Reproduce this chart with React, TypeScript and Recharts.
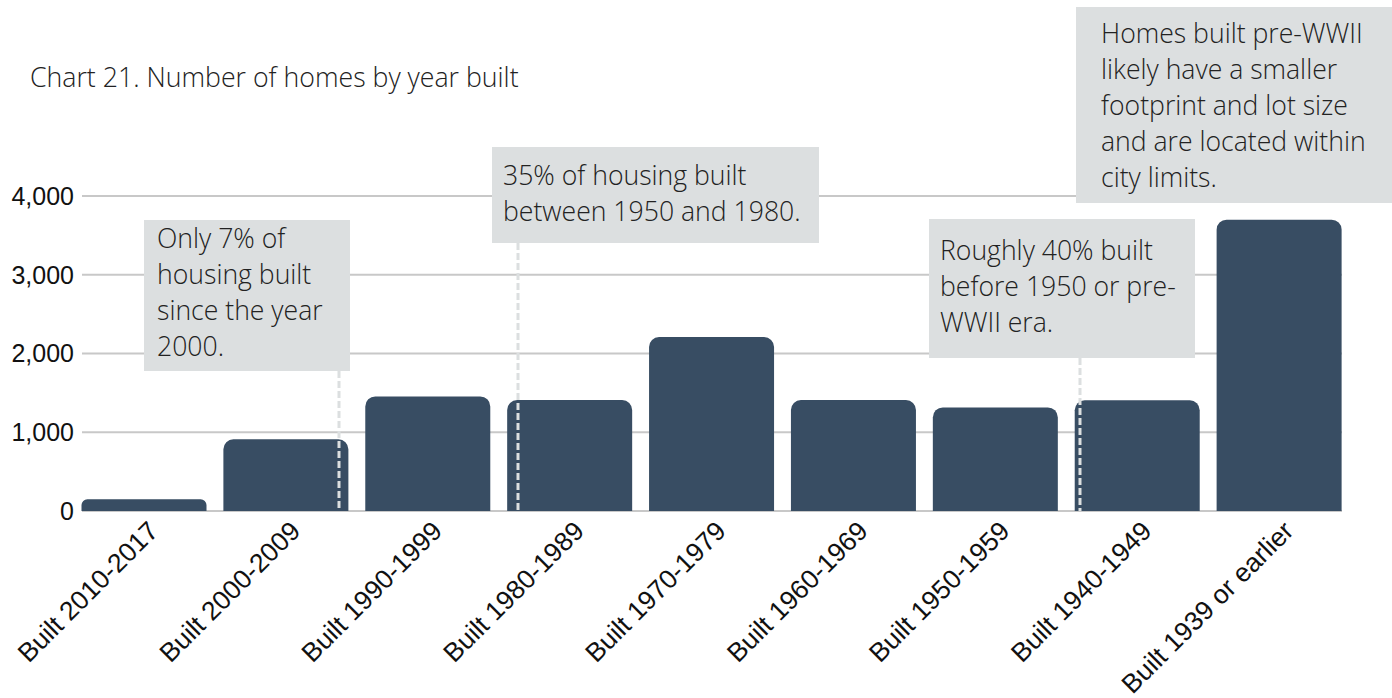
import { BarChart, Bar, XAxis, YAxis, CartesianGrid } from 'recharts';

const CATEGORIES = [
  'Built 2010-2017',
  'Built 2000-2009',
  'Built 1990-1999',
  'Built 1980-1989',
  'Built 1970-1979',
  'Built 1960-1969',
  'Built 1950-1959',
  'Built 1940-1949',
  'Built 1939 or earlier',
];

const HOMES = [150, 910, 1455, 1410, 2210, 1410, 1315, 1405, 3700];

const Y_TICKS = [0, 1000, 2000, 3000, 4000];

const TITLE = 'Chart 21. Number of homes by year built';

const NOTES = [
  {
    lines: ['Only 7% of', 'housing built', 'since the year', '2000.'],
    box: { left: 144, top: 220, width: 206, height: 151, padL: 13, padT: 0 },
    leader: { x: 339, y1: 371, y2: 511 },
  },
  {
    lines: ['35% of housing built', 'between 1950 and 1980.'],
    box: { left: 492, top: 147, width: 327, height: 96, padL: 11, padT: 10 },
    leader: { x: 518, y1: 243, y2: 511 },
  },
  {
    lines: ['Roughly 40% built', 'before 1950 or pre-', 'WWII era.'],
    box: { left: 929, top: 219, width: 266, height: 139, padL: 11, padT: 13 },
    leader: { x: 1080, y1: 358, y2: 511 },
  },
  {
    lines: [
      'Homes built pre-WWII',
      'likely have a smaller',
      'footprint and lot size',
      'and are located within',
      'city limits.',
    ],
    box: { left: 1076, top: 7, width: 316, height: 196, padL: 25, padT: 8 },
    leader: null,
  },
];

const data = CATEGORIES.map((name, i) => ({ name, homes: HOMES[i] }));

const BAR = '#384d63';
const NOTE_BG = '#dcdfe0';
const TICK_FONT = '"Liberation Sans", Arial, sans-serif';
const TEXT_FONT = '"Open Sans", sans-serif';

function XTick({ x, y, payload }: any) {
  return (
    <g transform={`translate(${x + 2},${y})`}>
      <text
        transform="rotate(-45)"
        textAnchor="end"
        dy="0.72em"
        fontSize={26.5}
        fontFamily={TICK_FONT}
        fill="#111"
      >
        {payload.value}
      </text>
    </g>
  );
}

export default function App() {
  return (
    <div style={{ position: 'relative', width: 1392, height: 698, overflow: 'hidden' }}>
      <style>{'body{margin:0}'}</style>
      <div
        style={{
          position: 'absolute',
          left: 30,
          top: 61.5,
          fontFamily: TEXT_FONT,
          fontSize: 26.7,
          fontWeight: 300,
          lineHeight: '30px',
          color: '#222',
          whiteSpace: 'nowrap',
        }}
      >
        {TITLE}
      </div>

      <BarChart
        width={1392}
        height={698}
        data={data}
        margin={{ top: 196, right: 50, bottom: 37, left: 0 }}
      >
        <CartesianGrid vertical={false} stroke="#c8c8c8" strokeWidth={2} />
        <XAxis
          dataKey="name"
          interval={0}
          height={150}
          axisLine={false}
          tickLine={false}
          padding={{ left: -8.5, right: -8.5 }}
          tick={<XTick />}
        />
        <YAxis
          width={82}
          domain={[0, 4000]}
          ticks={Y_TICKS}
          axisLine={false}
          tickLine={false}
          tickFormatter={(v: number) => v.toLocaleString('en-US')}
          tick={{ fontSize: 25, fontFamily: TICK_FONT, fill: '#111' }}
        />
        <Bar
          dataKey="homes"
          fill={BAR}
          barSize={125}
          radius={[10, 10, 0, 0]}
          isAnimationActive={false}
        />
      </BarChart>

      {NOTES.map((n, i) => (
        <div
          key={i}
          style={{
            position: 'absolute',
            left: n.box.left,
            top: n.box.top,
            width: n.box.width,
            height: n.box.height,
            background: NOTE_BG,
            boxSizing: 'border-box',
            paddingLeft: n.box.padL,
            paddingTop: n.box.padT,
            fontFamily: TEXT_FONT,
            fontSize: 26.6,
            fontWeight: 300,
            lineHeight: '36px',
            color: '#222',
            whiteSpace: 'nowrap',
          }}
        >
          {n.lines.map((l, j) => (
            <div key={j}>{l}</div>
          ))}
        </div>
      ))}

      <svg
        width={1392}
        height={698}
        style={{ position: 'absolute', left: 0, top: 0, pointerEvents: 'none' }}
      >
        {NOTES.filter((n) => n.leader).map((n, i) => (
          <line
            key={i}
            x1={n.leader!.x}
            x2={n.leader!.x}
            y1={n.leader!.y1}
            y2={n.leader!.y2}
            stroke={NOTE_BG}
            strokeWidth={3}
            strokeDasharray="7 3"
          />
        ))}
      </svg>
    </div>
  );
}
